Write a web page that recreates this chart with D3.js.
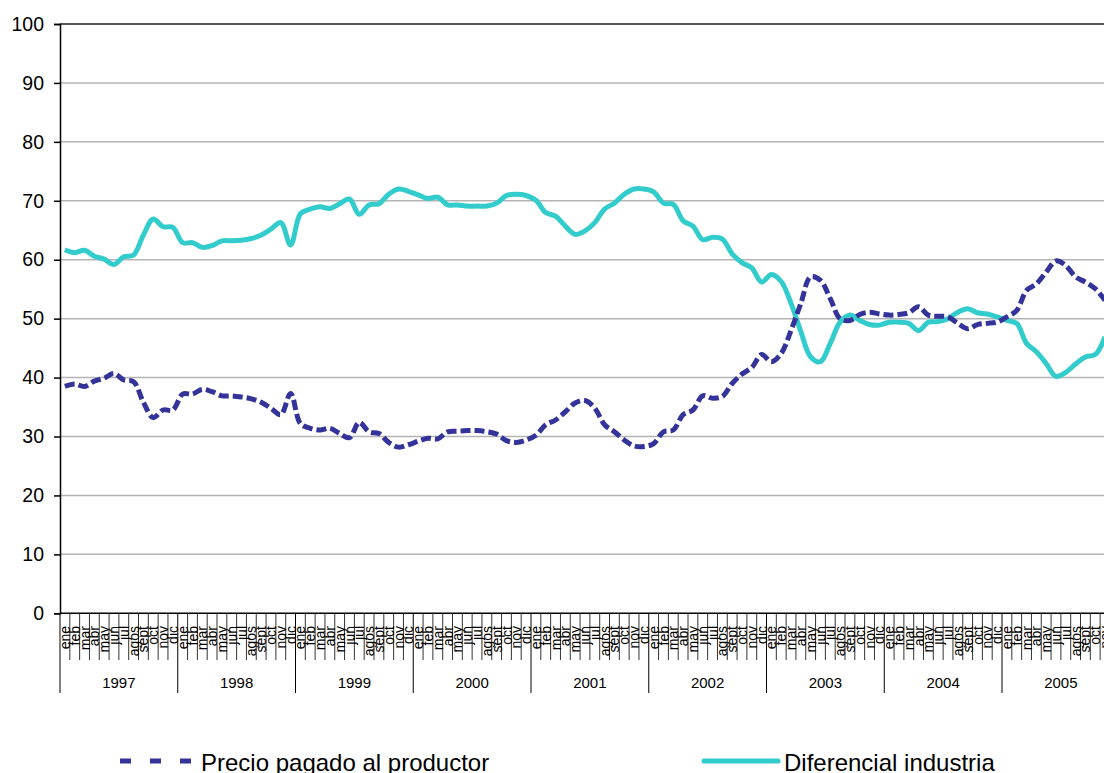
<!DOCTYPE html>
<html>
<head>
<meta charset="utf-8">
<script src="https://cdn.jsdelivr.net/npm/d3@7"></script>
<style>
  body { margin: 0; background: #fff; overflow: hidden; }
  svg { display: block; font-family: Arial, "Liberation Sans", sans-serif; }
</style>
</head>
<body>
<div id="chart"></div>
<script>
// meses y años del eje
var years = ["1997", "1998", "1999", "2000", "2001", "2002", "2003", "2004", "2005"];
var months = ["ene", "feb", "mar", "abr", "may", "jun", "jul", "agos", "sept", "oct", "nov", "dic"];
var yTicks = [0, 10, 20, 30, 40, 50, 60, 70, 80, 90, 100];

// valores mensuales ene 1997 - nov 2005
var precio = [
  38.5, 38.9, 38.5, 39.4, 39.9, 40.7, 39.6, 39.3, 35.8, 33.2, 34.5, 34.5,
  37.2, 37.2, 38.0, 37.6, 36.9, 36.9, 36.7, 36.4, 35.8, 34.8, 33.7, 37.3,
  32.2, 31.4, 31.1, 31.4, 30.5, 29.8, 32.4, 30.8, 30.5, 29.0, 28.2, 28.6,
  29.2, 29.7, 29.6, 30.8, 30.9, 31.0, 31.0, 30.8, 30.4, 29.3, 29.0, 29.4,
  30.2, 32.0, 32.8, 34.2, 35.7, 36.1, 34.8, 32.0, 30.8, 29.4, 28.4, 28.3,
  28.8, 30.8, 31.1, 33.7, 34.5, 36.9, 36.5, 36.8, 39.0, 40.6, 41.7, 43.9,
  42.7, 44.1, 48.0, 52.6, 57.1, 56.5, 53.4, 50.0, 49.7, 50.7, 51.1, 50.8,
  50.6, 50.7, 51.0, 52.0, 50.6, 50.4, 50.3, 49.2, 48.3, 49.0, 49.2, 49.4,
  50.3, 51.4, 54.8, 55.9, 57.9, 59.8, 59.0, 57.1, 56.2, 55.1, 53.1
];
var diferencial = [
  61.7, 61.2, 61.6, 60.6, 60.1, 59.2, 60.5, 60.8, 64.2, 66.9, 65.6, 65.5,
  62.9, 62.9, 62.1, 62.4, 63.2, 63.2, 63.3, 63.6, 64.2, 65.2, 66.3, 62.5,
  67.8, 68.6, 69.0, 68.7, 69.5, 70.3, 67.7, 69.3, 69.5, 71.1, 72.0, 71.6,
  71.0, 70.4, 70.6, 69.3, 69.3, 69.1, 69.1, 69.1, 69.6, 70.9, 71.1, 70.9,
  70.1, 68.0, 67.4, 65.7, 64.3, 64.9, 66.3, 68.6, 69.6, 71.1, 72.0, 72.0,
  71.5, 69.6, 69.4, 66.6, 65.7, 63.4, 63.8, 63.5, 61.0, 59.5, 58.6, 56.2,
  57.5, 56.3, 52.6, 47.8, 43.5, 42.7, 45.8, 49.4, 50.6, 49.7, 49.0, 48.9,
  49.4, 49.4, 49.2, 48.0, 49.4, 49.5, 50.0, 51.1, 51.7, 51.0, 50.8, 50.3,
  49.7, 49.2, 45.8, 44.4, 42.4, 40.2, 40.9, 42.3, 43.5, 43.9, 46.9
];

var W = 1104, H = 773;
var plotLeft = 60, plotTop = 24, plotBottom = 613.3;
var monthW = 9.8125;

var svg = d3.select("#chart").append("svg").attr("width", W).attr("height", H);

var keys = [];
years.forEach(function (yr) { months.forEach(function (m) { keys.push(yr + "-" + m); }); });

var x = d3.scaleBand().domain(keys).range([plotLeft, plotLeft + keys.length * monthW]);
var y = d3.scaleLinear().domain([0, 100]).range([plotBottom, plotTop]);
var cx = function (d, i) { return x(keys[i]) + x.bandwidth() / 2; };

// rejilla
svg.append("g").selectAll("line").data(yTicks.slice(1)).enter().append("line")
  .attr("x1", plotLeft).attr("x2", W)
  .attr("y1", function (d) { return y(d); }).attr("y2", function (d) { return y(d); })
  .attr("stroke", function (d) { return d === 100 ? "#555" : "#b4b4b4"; })
  .attr("stroke-width", function (d) { return d === 100 ? 2 : 1.5; });

// eje y
var yAxis = svg.append("g").attr("transform", "translate(" + plotLeft + ",0)")
  .call(d3.axisLeft(y).tickValues(yTicks).tickSize(6).tickPadding(10));
yAxis.select(".domain").attr("stroke", "#000").attr("stroke-width", 1.5);
yAxis.selectAll(".tick line").attr("stroke", "#000").attr("stroke-width", 1.5);
yAxis.selectAll(".tick text").attr("font-size", "19.5px").attr("fill", "#000")
  .attr("font-family", "Arial, 'Liberation Sans', sans-serif");

// eje x
svg.append("line").attr("x1", plotLeft).attr("x2", W).attr("y1", plotBottom).attr("y2", plotBottom)
  .attr("stroke", "#000").attr("stroke-width", 1.5);

var bounds = d3.range(keys.length + 1);
svg.append("g").selectAll("line").data(bounds).enter().append("line")
  .attr("x1", function (i) { return plotLeft + i * x.step(); })
  .attr("x2", function (i) { return plotLeft + i * x.step(); })
  .attr("y1", plotBottom)
  .attr("y2", function (i) { return i % 12 === 0 ? 693 : 660; })
  .attr("stroke", function (i) { return i % 12 === 0 ? "#000" : "#333"; })
  .attr("stroke-width", 1);

svg.append("g").selectAll("text").data(keys).enter().append("text")
  .attr("transform", function (d) {
    return "translate(" + (x(d) + x.bandwidth() / 2) + ",626) rotate(-90)";
  })
  .attr("dy", "0.36em")
  .attr("text-anchor", "end")
  .attr("font-size", "14px")
  .attr("fill", "#000")
  .text(function (d) { return d.split("-")[1]; });

svg.append("g").selectAll("text").data(years).enter().append("text")
  .attr("x", function (d) { return x(d + "-ene") + 6 * x.step(); })
  .attr("y", 688)
  .attr("text-anchor", "middle")
  .attr("font-size", "15px")
  .attr("fill", "#000")
  .text(function (d) { return d; });

// series
var line = d3.line()
  .x(cx)
  .y(function (d) { return y(d); })
  .curve(d3.curveCatmullRom.alpha(0.5));

var plot = svg.append("g");
plot.append("path").datum(diferencial).attr("d", line)
  .attr("fill", "none").attr("stroke", "#33CCCC").attr("stroke-width", 5)
  .attr("stroke-linejoin", "round");
plot.append("path").datum(precio).attr("d", line)
  .attr("fill", "none").attr("stroke", "#333399").attr("stroke-width", 5)
  .attr("stroke-dasharray", "10,4");

// leyenda
var legend = svg.append("g");
legend.append("line").attr("x1", 120).attr("x2", 193).attr("y1", 761).attr("y2", 761)
  .attr("stroke", "#333399").attr("stroke-width", 5).attr("stroke-dasharray", "11,19");
legend.append("text").attr("x", 201).attr("y", 771).attr("font-size", "24px").attr("fill", "#000")
  .text("Precio pagado al productor");
legend.append("line").attr("x1", 704).attr("x2", 778).attr("y1", 761).attr("y2", 761)
  .attr("stroke", "#33CCCC").attr("stroke-width", 5).attr("stroke-linecap", "round");
legend.append("text").attr("x", 784).attr("y", 771).attr("font-size", "24px").attr("fill", "#000")
  .text("Diferencial industria");
</script>
</body>
</html>
